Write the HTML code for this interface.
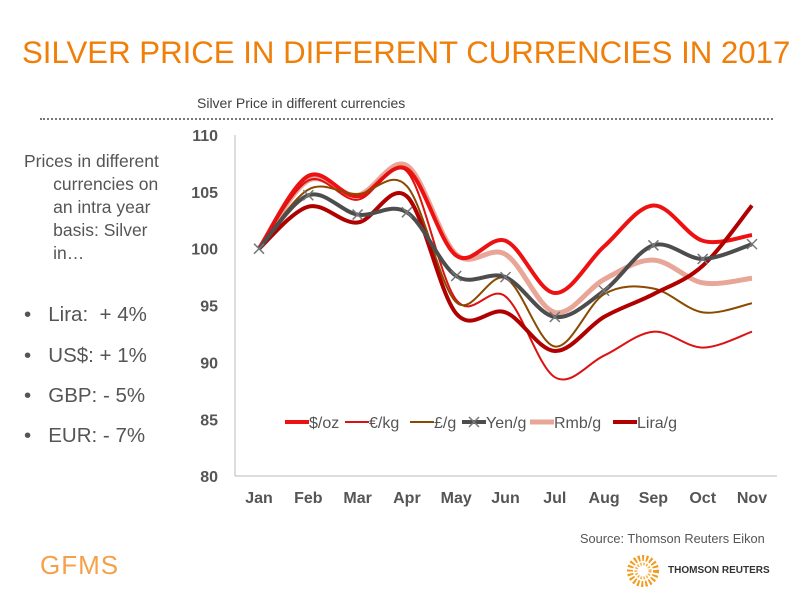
<!DOCTYPE html>
<html><head><meta charset="utf-8"><style>
body{margin:0;width:800px;height:600px;background:#fff;font-family:"Liberation Sans",sans-serif;overflow:hidden;position:relative}
.t{position:absolute;white-space:nowrap}
</style></head><body>
<div class="t" style="left:22px;top:35px;font-size:31.2px;color:#f07f09">SILVER PRICE IN DIFFERENT CURRENCIES IN 2017</div>
<div class="t" style="left:197px;top:95px;font-size:14px;color:#404040">Silver Price in different currencies</div>
<div style="position:absolute;left:40px;top:118px;width:733px;border-top:2px dotted #777"></div>
<div class="t" style="left:24px;top:150px;font-size:17.5px;line-height:23px;color:#555">Prices in different<br>&nbsp;&nbsp;&nbsp;&nbsp;&nbsp;&nbsp;currencies on<br>&nbsp;&nbsp;&nbsp;&nbsp;&nbsp;&nbsp;an intra year<br>&nbsp;&nbsp;&nbsp;&nbsp;&nbsp;&nbsp;basis: Silver<br>&nbsp;&nbsp;&nbsp;&nbsp;&nbsp;&nbsp;in…</div>
<div class="t" style="left:24px;top:303px;font-size:20.5px;color:#555">•&nbsp;&nbsp; Lira:&nbsp; + 4%</div>
<div class="t" style="left:24px;top:344px;font-size:20.5px;color:#555">•&nbsp;&nbsp; US$: + 1%</div>
<div class="t" style="left:24px;top:384px;font-size:20.5px;color:#555">•&nbsp;&nbsp; GBP: - 5%</div>
<div class="t" style="left:24px;top:424px;font-size:20.5px;color:#555">•&nbsp;&nbsp; EUR: - 7%</div>
<div class="t" style="left:40px;top:550px;font-size:26px;color:#f5a04a;letter-spacing:1px">GFMS</div>
<div class="t" style="left:580px;top:531px;font-size:12.8px;color:#555">Source: Thomson Reuters Eikon</div>
<svg style="position:absolute;left:625px;top:552px" width="40" height="40">
<circle cx="18" cy="19" r="13" fill="none" stroke="#f39a1f" stroke-width="6" stroke-dasharray="2 2"/>
<circle cx="18" cy="19" r="7" fill="none" stroke="#f7b24a" stroke-width="3" stroke-dasharray="1.5 1.5"/></svg>
<div class="t" style="left:668px;top:565px;font-size:10px;font-weight:bold;color:#333">THOMSON REUTERS</div>
<svg id="chart" style="position:absolute;left:0;top:0" width="800" height="600"></svg>
<script>
const months=["Jan","Feb","Mar","Apr","May","Jun","Jul","Aug","Sep","Oct","Nov"];
const yTicks=[80,85,90,95,100,105,110];
const usd=[100,106.4,104.6,107.0,99.4,100.7,96.1,100.2,103.8,100.7,101.2];
const eur=[100,106.0,104.3,106.8,95.5,95.8,88.7,90.6,92.7,91.3,92.7];
const gbp=[100,105.2,104.8,105.5,95.3,97.4,91.4,96.0,96.5,94.4,95.2];
const yen=[100,104.7,103.0,103.2,97.6,97.5,94.0,96.3,100.3,99.1,100.4];
const rmb=[100,106.0,104.7,107.3,99.5,99.5,94.4,97.3,99.0,97.0,97.4];
const lira=[100,103.7,102.3,104.6,94.3,94.4,91.0,94.0,96.0,98.5,103.8];
const names=["$/oz","€/kg","£/g","Yen/g","Rmb/g","Lira/g"];
const NS="http://www.w3.org/2000/svg";
const svg=document.getElementById('chart');
const x=i=>259+i*49.3;
const y=v=>135+(110-v)*11.37;
function mk(t,a){const e=document.createElementNS(NS,t);for(const k in a)e.setAttribute(k,a[k]);svg.appendChild(e);return e;}
let ax=mk('line',{x1:235,y1:135,x2:235,y2:476,stroke:'#bbb'});


let bx=mk('line',{x1:235,y1:476,x2:777,y2:476,stroke:'#bbb'});


yTicks.forEach(v=>{const t=mk('text',{x:218,y:y(v)+6,'text-anchor':'end','font-size':16,'font-weight':'bold',fill:'#555','font-family':'Liberation Sans'});t.textContent=v;

});
months.forEach((m,i)=>{const t=mk('text',{x:x(i),y:503,'text-anchor':'middle','font-size':16,'font-weight':'bold',fill:'#555','font-family':'Liberation Sans'});t.textContent=m;

});
function path(d){const p=d.map((v,i)=>[x(i),y(v)]);let s=`M${p[0][0]},${p[0][1]}`;
for(let i=0;i<p.length-1;i++){const p0=p[i-1]||p[i],p1=p[i],p2=p[i+1],p3=p[i+2]||p2;
s+=` C${p1[0]+(p2[0]-p0[0])/6},${p1[1]+(p2[1]-p0[1])/6} ${p2[0]-(p3[0]-p1[0])/6},${p2[1]-(p3[1]-p1[1])/6} ${p2[0]},${p2[1]}`;}return s;}
const series=[[rmb,'#e8a698',5,'series-rmb'],[usd,'#ee1111',4,'series-usd'],[eur,'#dd1111',2,'series-eur'],[gbp,'#8a4a00',2,'series-gbp'],[lira,'#b00000',4,'series-lira'],[yen,'#4d4d4d',4,'series-yen']];
series.forEach(s=>{const e=mk('path',{d:path(s[0]),fill:'none',stroke:s[1],'stroke-width':s[2]});

});
yen.forEach((v,i)=>{const g=mk('path',{d:`M${x(i)-5},${y(v)-5}L${x(i)+5},${y(v)+5}M${x(i)+5},${y(v)-5}L${x(i)-5},${y(v)+5}`,stroke:'#777','stroke-width':1.5});

});
const legCol=['#ee1111','#dd1111','#8a4a00','#4d4d4d','#e8a698','#b00000'];
const legW=[4,2,2,4,5,4];
const legX=[285,345,410,462,530,613];
legX.forEach((lx,i)=>{const l=mk('line',{x1:lx,y1:422,x2:lx+24,y2:422,stroke:legCol[i],'stroke-width':legW[i]});


if(i==3){mk('path',{d:`M${lx+7},417L${lx+17},427M${lx+17},417L${lx+7},427`,stroke:'#777','stroke-width':1.5});}
const t=mk('text',{x:lx+24,y:428,'font-size':16,fill:'#555','font-family':'Liberation Sans'});t.textContent=names[i];

});
</script>
</body></html>
